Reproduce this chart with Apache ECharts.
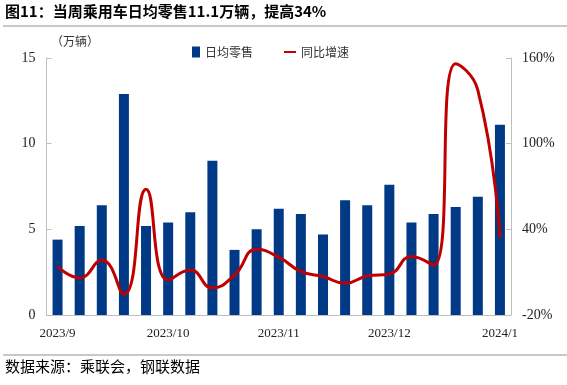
<!DOCTYPE html>
<html><head><meta charset="utf-8">
<script src="https://cdn.jsdelivr.net/npm/echarts@6/dist/echarts.min.js"></script>
<style>html,body{margin:0;padding:0;background:#fff}#c{width:567px;height:385px}</style>
</head><body><div id="c"></div>
<script>
var categories = ['2023/9','w2','w3','w4','w5','2023/10','w7','w8','w9','w10','2023/11','w12','w13','w14','w15','2023/12','w17','w18','w19','w20','2024/1'];
var dailySales = [4.4,5.2,6.4,12.9,5.2,5.4,6.0,9.0,3.8,5.0,6.2,5.9,4.7,6.7,6.4,7.6,5.4,5.9,6.3,6.9,11.1];
var yoyGrowth = [14,6,18.5,-5.5,68,4.5,11.5,-1,8,26,20.5,10.5,7,2.2,7.3,8.7,21,14.8,156,137.5,34];
var leftTicks = [0,5,10,15];
var rightTicks = [-20,40,100,160];

var cjk = '"Noto Sans CJK SC", sans-serif';
var serif = '"Liberation Serif", "DejaVu Serif", serif';
var chart = echarts.init(document.getElementById('c'));
chart.setOption({
  animation: false,
  backgroundColor: '#fff',
  graphic: [
    {type:'text', left:5, top:4, style:{text:'图11：当周乘用车日均零售11.1万辆，提高34%', font:'bold 15px ' + cjk, fill:'#000'}},
    {type:'rect', shape:{x:3, y:25, width:564, height:2}, style:{fill:'#c8c8c8'}},
    {type:'rect', shape:{x:3, y:354, width:564, height:2}, style:{fill:'#c8c8c8'}},
    {type:'text', left:5, top:359, style:{text:'数据来源：乘联会，钢联数据', font:'15px ' + cjk, fill:'#000'}},
    {type:'text', left:51, top:35, style:{text:'（万辆）', font:'12px ' + cjk, fill:'#333'}}
  ],
  legend: [
    {data:[{name:'日均零售', icon:'rect'}], left:187, top:41, itemWidth:8, itemHeight:11, itemGap:4,
      textStyle:{fontFamily:cjk, fontSize:12, color:'#333'}},
    {data:[{name:'同比增速', icon:'rect'}], left:279, top:41, itemWidth:12, itemHeight:2, itemGap:4,
      textStyle:{fontFamily:cjk, fontSize:12, color:'#333'}}
  ],
  grid: {left:46.5, right:56, top:58, bottom:70, containLabel:false},
  xAxis: {
    type:'category', data:categories, boundaryGap:true,
    axisLine:{lineStyle:{color:'#bfbfbf'}},
    axisTick:{show:false},
    axisLabel:{interval:function(i){return i%5===0;}, formatter:function(v,i){return i%5===0?v:'';}, fontFamily:serif, fontSize:13, color:'#222', margin:12}
  },
  yAxis: [
    {type:'value', min:leftTicks[0], max:leftTicks[leftTicks.length-1], interval:5,
      axisLine:{show:true, lineStyle:{color:'#bfbfbf'}},
      axisTick:{show:true, inside:true, length:5, lineStyle:{color:'#bfbfbf'}},
      splitLine:{show:false},
      axisLabel:{fontFamily:serif, fontSize:14, color:'#222', margin:11}},
    {type:'value', min:rightTicks[0], max:rightTicks[rightTicks.length-1], interval:60,
      axisLine:{show:true, lineStyle:{color:'#bfbfbf'}},
      axisTick:{show:true, inside:true, length:5, lineStyle:{color:'#bfbfbf'}},
      splitLine:{show:false},
      axisLabel:{formatter:'{value}%', fontFamily:serif, fontSize:14, color:'#222', margin:11}}
  ],
  series: [
    {name:'日均零售', type:'bar', data:dailySales, barWidth:10, yAxisIndex:0,
      itemStyle:{color:'#003a87'}, z:2},
    {name:'同比增速', type:'line', data:yoyGrowth, yAxisIndex:1, smooth:0.5, symbol:'none',
      lineStyle:{color:'#c00000', width:3}, itemStyle:{color:'#c00000'}, z:3}
  ]
});
</script></body></html>
